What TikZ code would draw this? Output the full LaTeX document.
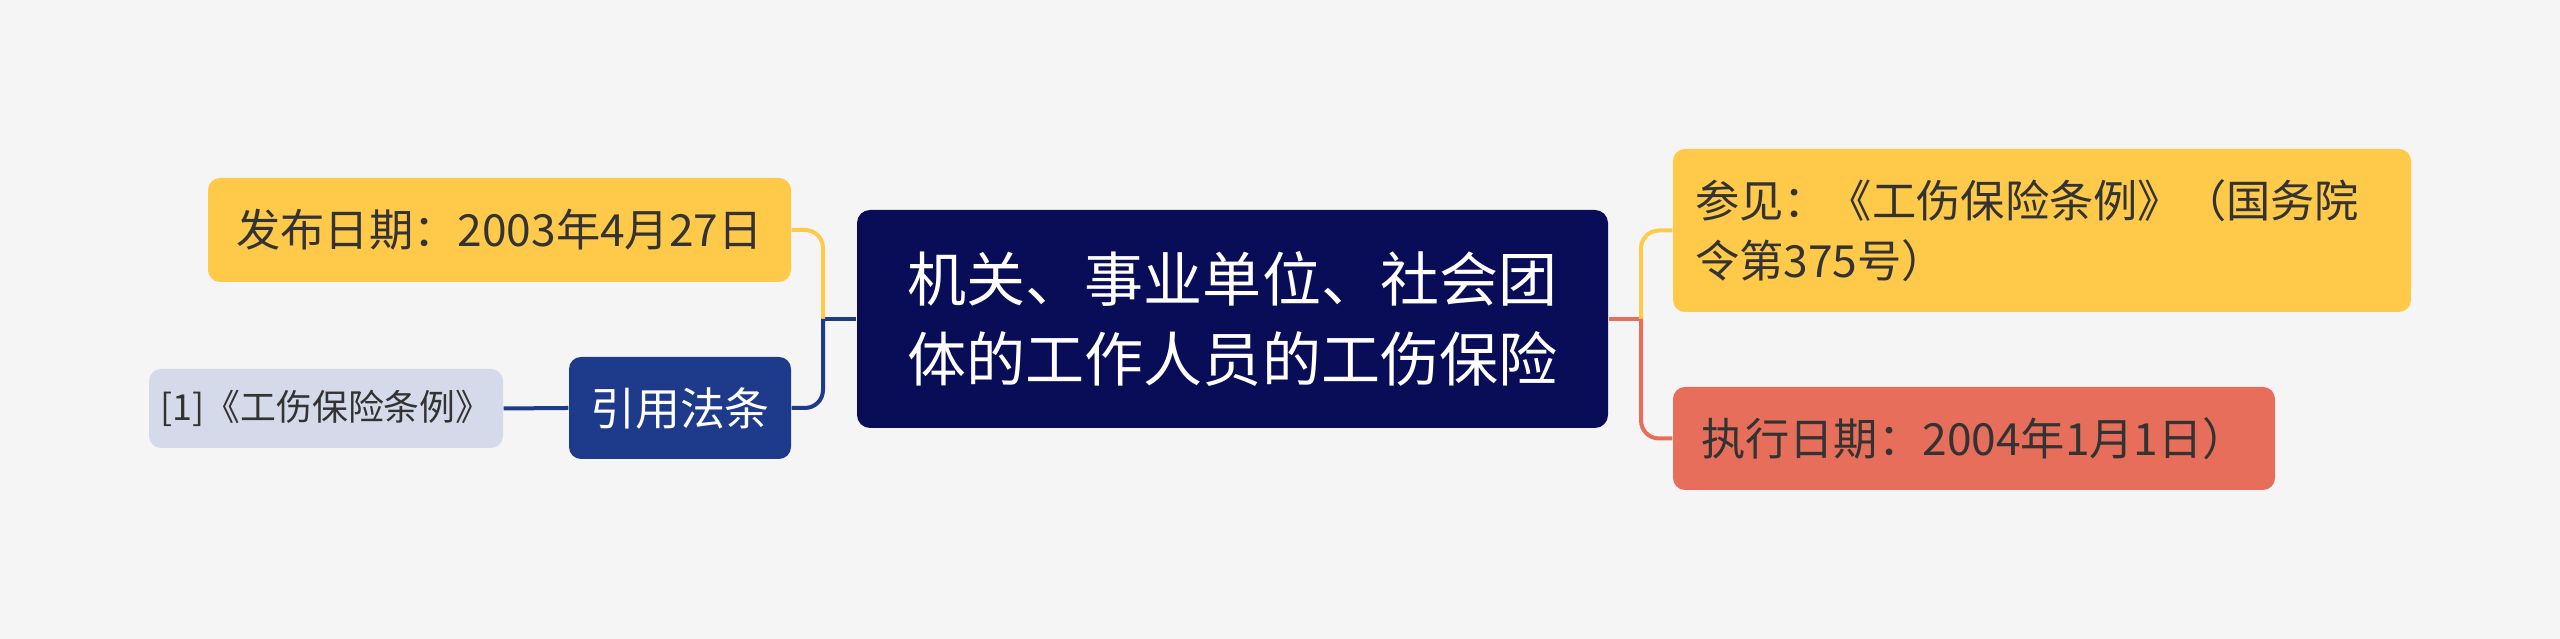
\documentclass[tikz,border=0pt]{standalone}
\usepackage{fontspec}
\newfontfamily\cjk{Noto Sans CJK SC}
\usetikzlibrary{positioning,calc}

\begin{document}
\begin{tikzpicture}[
    box/.style={inner sep=0pt, rounded corners=0.12cm, font=\cjk, align=center},
    leaf/.style={box, text=textdark, font=\cjk\fontsize{12.6}{17}\selectfont},
    link/.style={line width=0.04cm, rounded corners=0.18cm}
  ]
                \definecolor{bgcol}{RGB}{245,245,245}
                \definecolor{rootblue}{RGB}{9,13,87}
                \definecolor{citeblue}{RGB}{30,58,138}
                \definecolor{refgray}{RGB}{212,218,234}
                \definecolor{leafyellow}{RGB}{255,201,74}
                \definecolor{leafred}{RGB}{230,110,91}
                \definecolor{textdark}{RGB}{51,51,51}

                % Background, fixes the page size
                \fill[bgcol] (0,0) rectangle (25.6,6.39);

                % Central topic
                \node[box, fill=rootblue, text=white, rounded corners=0.13cm, minimum width=7.51cm, minimum height=2.18cm,
                      font=\cjk\fontsize{16.8}{22.8}\selectfont] (root) at (12.325,3.20) {机关、事业单位、社会团\\体的工作人员的工伤保险};

                % Left branches
                \node[leaf, fill=leafyellow, minimum width=5.83cm, minimum height=1.04cm] (pub) at (4.995,4.09) {发布日期：2003年4月27日};
                \node[box, fill=citeblue, text=white, minimum width=2.22cm, minimum height=1.02cm,
                      font=\cjk\fontsize{12.8}{15}\selectfont] (cite) at (6.80,2.31) {引用法条};
                \node[box, fill=refgray, text=textdark, minimum width=3.54cm, minimum height=0.79cm,
                      font=\cjk\fontsize{10.2}{12}\selectfont] (ref1) at (3.26,2.305) {[1]《工伤保险条例》};

                % Right branches
                \node[leaf, fill=leafyellow, align=left, text width=6.94cm, inner xsep=0.22cm, minimum width=7.38cm, minimum height=1.63cm] (see) at (20.42,4.085) {参见：《工伤保险条例》（国务院\\令第375号）};
                \node[leaf, fill=leafred, minimum width=6.02cm, minimum height=1.03cm] (exec) at (19.74,2.005) {执行日期：2004年1月1日）};

                % Junction points of the connectors
                \coordinate (ljoin) at (8.23,3.20);
                \coordinate (rjoin) at (16.41,3.20);

                % Left connectors
                \draw[link, citeblue] (root.west) -- (ljoin);
                \draw[link, leafyellow] (ljoin) |- (pub.east);
                \draw[link, citeblue] (ljoin) |- (cite.east);
                \draw[link, citeblue] (cite.west) -- (ref1.east);

                % Right connectors
                \draw[link, leafred] (root.east) -- (rjoin);
                \draw[link, leafyellow] (rjoin) |- (see.west);
                \draw[link, leafred] (rjoin) |- (exec.west);
            \end{tikzpicture}
\end{document}
